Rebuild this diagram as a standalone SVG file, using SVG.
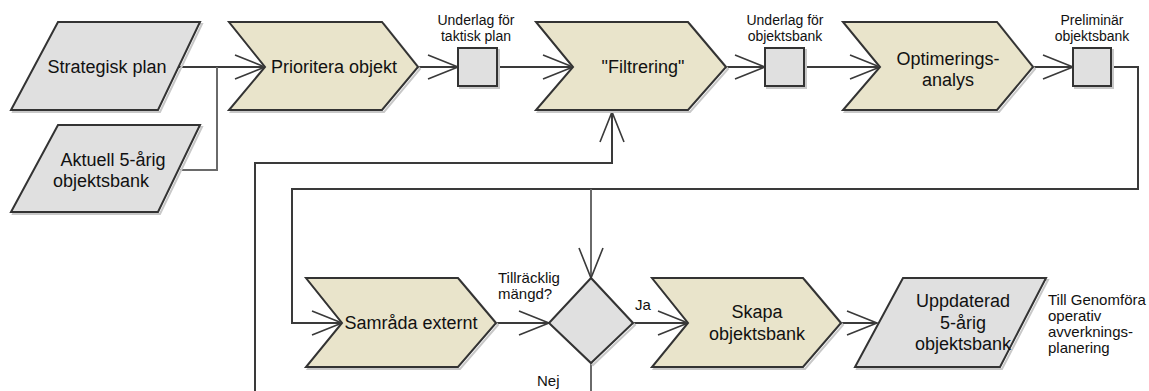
<svg xmlns="http://www.w3.org/2000/svg" xmlns:xlink="http://www.w3.org/1999/xlink" width="1149" height="391" viewBox="0 0 1149 391">
  <defs>
    <style>
      .proc { fill: #e9e4cb; stroke: #333; stroke-width: 2; stroke-linejoin: miter; }
      .data { fill: #e0e0e0; stroke: #333; stroke-width: 2; }
      .shadow { fill: none; stroke: #c8c8c8; stroke-width: 2; }
      .conn { fill: none; stroke: #3a3a3a; stroke-width: 2; }
      .conn-g { fill: none; stroke: #6a6a6a; stroke-width: 2; }
      .head { fill: none; stroke: #3a3a3a; stroke-width: 1.6; }
      .t { font-family: "Liberation Sans", Arial, sans-serif; font-size: 18px; fill: #111; text-anchor: middle; }
      .s { font-family: "Liberation Sans", Arial, sans-serif; font-size: 15px; fill: #111; }
      .lbl { font-family: "Liberation Sans", Arial, sans-serif; font-size: 14px; fill: #111; text-anchor: middle; }
    </style>
  </defs>
  <rect width="1149" height="391" fill="#fff"/>

  <!-- connectors -->
  <g id="connectors">
    <path class="conn" d="M177 67 H265"/>
    <path class="conn-g" d="M180 170 H217 V67"/>
    <path class="conn" d="M418 67 H458"/>
    <path class="conn" d="M497 67 H573"/>
    <path class="conn" d="M726 67 H765"/>
    <path class="conn" d="M804 67 H880"/>
    <path class="conn" d="M1033 67 H1073"/>
    <path class="conn" d="M1111 67 H1138 V189 H292 V323 H342"/>
    <path class="conn-g" d="M591 189 V278"/>
    <path class="conn" d="M255 391 V163 H612 V112"/>
    <path class="conn" d="M496 323 H549"/>
    <path class="conn" d="M633 323 H688"/>
    <path class="conn" d="M841 323 H877"/>
    <path class="conn-g" d="M591 363 V391"/>
    <!-- open arrowheads -->
    <path class="head" d="M235 55 L265 67 L235 79"/>
    <path class="head" d="M428 55 L458 67 L428 79"/>
    <path class="head" d="M543 55 L573 67 L543 79"/>
    <path class="head" d="M735 55 L765 67 L735 79"/>
    <path class="head" d="M850 55 L880 67 L850 79"/>
    <path class="head" d="M1043 55 L1073 67 L1043 79"/>
    <path class="head" d="M600 142 L612 112 L624 142"/>
    <path class="head" d="M312 311 L342 323 L312 335"/>
    <path class="head" d="M519 311 L549 323 L519 335"/>
    <path class="head" d="M579 248 L591 278 L603 248"/>
    <path class="head" d="M658 311 L688 323 L658 335"/>
    <path class="head" d="M847 311 L877 323 L847 335"/>
  </g>

  <!-- inputs -->
  <g id="strategisk-plan">
    <polygon class="shadow" points="59,23 201,23 159,111 12,111" transform="translate(1,1)"/>
    <polygon class="data" points="58,22 200,22 158,110 11,110"/>
    <text class="t" x="107" y="73">Strategisk plan</text>
  </g>
  <g id="aktuell-objektsbank">
    <polygon class="shadow" points="59,126 201,126 159,213 12,213" transform="translate(1,1)"/>
    <polygon class="data" points="58,125 200,125 158,212 11,212"/>
    <text class="t" x="113" y="166">Aktuell 5-årig</text>
    <text class="t" x="101" y="187">objektsbank</text>
  </g>

  <!-- row 1 -->
  <g id="prioritera-objekt">
    <polygon class="shadow" points="230,23 383,23 419,68 383,111 230,111 266,68" transform="translate(1,1)"/>
    <polygon class="proc" points="229,22 382,22 418,67 382,110 229,110 265,67"/>
    <text class="t" x="334" y="73">Prioritera objekt</text>
  </g>
  <g id="underlag-taktisk">
    <rect class="shadow" x="459" y="49" width="39" height="38" transform="translate(1,1)"/>
    <rect class="data" x="458" y="48" width="39" height="38"/>
    <text class="lbl" x="476" y="25">Underlag för</text>
    <text class="lbl" x="476" y="41">taktisk plan</text>
  </g>
  <g id="filtrering">
    <polygon class="shadow" points="537,23 689,23 727,68 689,111 537,111 574,68" transform="translate(1,1)"/>
    <polygon class="proc" points="536,22 688,22 726,67 688,110 536,110 573,67"/>
    <text class="t" x="643" y="73">"Filtrering"</text>
  </g>
  <g id="underlag-objektsbank">
    <rect class="shadow" x="766" y="49" width="39" height="38" transform="translate(1,1)"/>
    <rect class="data" x="765" y="48" width="39" height="38"/>
    <text class="lbl" x="785" y="25">Underlag för</text>
    <text class="lbl" x="785" y="41">objektsbank</text>
  </g>
  <g id="optimeringsanalys">
    <polygon class="shadow" points="844,23 998,23 1034,68 998,111 844,111 881,68" transform="translate(1,1)"/>
    <polygon class="proc" points="843,22 997,22 1033,67 997,110 843,110 880,67"/>
    <text class="t" x="948" y="65">Optimerings-</text>
    <text class="t" x="948" y="86">analys</text>
  </g>
  <g id="preliminar-objektsbank">
    <rect class="shadow" x="1074" y="49" width="38" height="38" transform="translate(1,1)"/>
    <rect class="data" x="1073" y="48" width="38" height="38"/>
    <text class="lbl" x="1092" y="25">Preliminär</text>
    <text class="lbl" x="1092" y="41">objektsbank</text>
  </g>

  <!-- row 2 -->
  <g id="samrada-externt">
    <polygon class="shadow" points="307,279 459,279 497,324 459,368 307,368 343,324" transform="translate(1,1)"/>
    <polygon class="proc" points="306,278 458,278 496,323 458,367 306,367 342,323"/>
    <text class="t" x="411" y="329">Samråda externt</text>
  </g>
  <g id="tillracklig-mangd">
    <polygon class="shadow" points="592,279 634,324 592,364 550,324" transform="translate(1,1)"/>
    <polygon class="data" points="591,278 633,323 591,363 549,323"/>
    <text class="s" x="498" y="283">Tillräcklig</text>
    <text class="s" x="498" y="299">mängd?</text>
    <text class="s" x="635" y="310">Ja</text>
    <text class="s" x="537" y="386">Nej</text>
  </g>
  <g id="skapa-objektsbank">
    <polygon class="shadow" points="653,279 804,279 842,324 804,368 653,368 689,324" transform="translate(1,1)"/>
    <polygon class="proc" points="652,278 803,278 841,323 803,367 652,367 688,323"/>
    <text class="t" x="757" y="318">Skapa</text>
    <text class="t" x="757" y="340">objektsbank</text>
  </g>
  <g id="uppdaterad-objektsbank">
    <polygon class="shadow" points="904,279 1047,279 1001,368 856,368" transform="translate(1,1)"/>
    <polygon class="data" points="903,278 1046,278 1000,367 855,367"/>
    <text class="t" x="963" y="307">Uppdaterad</text>
    <text class="t" x="963" y="329">5-årig</text>
    <text class="t" x="963" y="350">objektsbank</text>
    <text class="s" x="1048" y="305">Till Genomföra</text>
    <text class="s" x="1048" y="321">operativ</text>
    <text class="s" x="1048" y="337">avverknings-</text>
    <text class="s" x="1048" y="353">planering</text>
  </g>
</svg>
